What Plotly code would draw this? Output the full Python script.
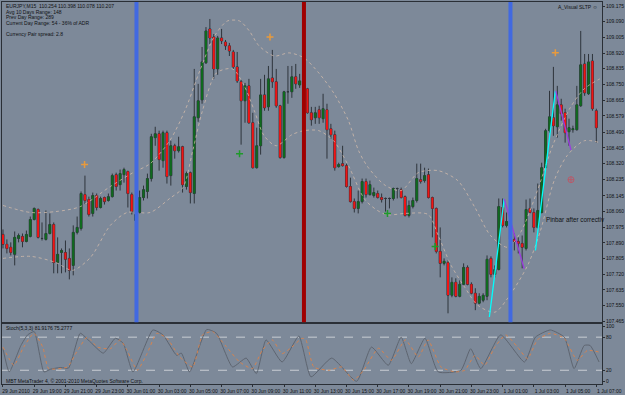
import plotly.graph_objects as go

# ---------------- data ----------------
bars = list(range(153))
open_ = [107.936,107.882,107.866,107.828,107.914,107.925,107.898,107.925,108.017,108.071,
107.914,107.909,107.941,107.990,107.784,107.838,107.838,107.806,107.768,107.947,
107.968,108.152,108.125,108.050,108.147,108.082,108.136,108.120,108.141,108.260,
108.206,108.260,108.277,108.152,108.012,108.055,108.136,108.169,108.239,108.461,
108.482,108.336,108.488,108.255,108.417,108.390,108.412,108.196,108.271,108.158,
108.569,108.666,108.867,109.051,109.007,108.834,109.002,108.980,108.959,108.926,
108.845,108.764,108.661,108.742,108.542,108.298,108.417,108.693,108.628,108.785,
108.764,108.634,108.353,108.710,108.710,108.791,108.747,108.775,108.726,108.596,
108.569,108.612,108.564,108.612,108.509,108.477,108.304,108.320,108.309,108.196,
108.114,108.077,108.114,108.223,108.152,108.147,108.158,108.136,108.131,108.131,
108.131,108.185,108.179,108.141,108.039,108.087,108.120,108.233,108.228,108.260,
108.136,108.077,107.844,107.779,107.784,107.606,107.676,107.600,107.665,107.757,
107.665,107.617,107.563,107.579,107.600,107.806,107.719,107.746,108.082,107.985,
108.006,107.909,107.898,107.887,107.860,108.077,108.055,107.974,108.055,108.298,
108.499,108.569,108.520,108.639,108.596,108.493,108.504,108.504,108.634,108.861,
108.699,108.877,108.607]
high = [107.963,107.909,107.893,107.952,107.941,107.941,107.957,108.033,108.082,108.077,
108.001,108.066,108.050,108.001,107.920,107.860,107.903,107.860,107.985,108.033,
108.169,108.255,108.141,108.163,108.158,108.141,108.141,108.158,108.266,108.271,
108.288,108.298,108.282,108.163,108.104,108.174,108.201,108.266,108.482,108.520,
108.499,108.499,108.499,108.444,108.428,108.466,108.417,108.277,108.277,108.834,
108.753,108.953,109.061,109.105,109.023,109.013,109.051,108.991,108.975,108.937,
108.926,108.775,108.758,108.780,108.596,108.515,108.780,108.802,108.850,108.937,
108.834,108.639,108.715,108.850,108.850,108.861,108.807,108.839,108.731,108.628,
108.628,108.634,108.699,108.645,108.536,108.499,108.325,108.417,108.320,108.244,
108.131,108.174,108.239,108.239,108.228,108.190,108.174,108.158,108.136,108.136,
108.190,108.190,108.190,108.147,108.120,108.136,108.320,108.320,108.298,108.293,
108.141,108.082,107.974,107.806,107.795,107.703,107.698,107.687,107.779,107.768,
107.676,107.644,107.617,107.617,107.822,107.817,107.768,108.131,108.131,108.055,
108.028,107.941,107.920,107.930,108.125,108.131,108.077,108.212,108.325,108.509,
108.715,108.845,108.742,108.672,108.618,108.564,108.526,108.742,109.040,108.915,
108.915,108.915,108.618]
low = [107.860,107.833,107.822,107.768,107.893,107.866,107.893,107.920,108.012,107.914,
107.903,107.903,107.936,107.725,107.725,107.725,107.730,107.692,107.714,107.936,
107.957,108.098,108.033,108.033,108.066,108.077,108.098,108.114,108.136,108.174,
108.174,108.217,108.082,108.044,107.995,108.050,108.120,108.131,108.223,108.417,
108.282,108.298,108.212,108.201,108.347,108.380,108.163,108.179,108.104,108.104,
108.547,108.645,108.861,108.969,108.780,108.802,108.969,108.937,108.904,108.834,
108.758,108.423,108.542,108.536,108.293,108.293,108.369,108.607,108.607,108.731,
108.623,108.347,108.347,108.645,108.677,108.726,108.731,108.677,108.591,108.526,
108.536,108.536,108.542,108.347,108.455,108.282,108.298,108.304,108.190,108.109,
108.055,108.050,108.104,108.136,108.147,108.136,108.131,108.109,108.060,108.077,
108.120,108.131,108.131,108.033,108.028,108.077,108.109,108.212,108.217,108.131,
107.920,107.833,107.703,107.768,107.508,107.595,107.595,107.595,107.660,107.660,
107.611,107.525,107.557,107.568,107.579,107.703,107.703,107.741,107.974,107.974,
107.898,107.849,107.833,107.752,107.849,108.050,107.947,107.968,108.050,108.293,
108.488,108.471,108.461,108.553,108.434,108.417,108.488,108.499,108.628,108.688,
108.693,108.607,108.434]
close = [107.882,107.860,107.838,107.920,107.930,107.898,107.936,108.017,108.077,107.920,
107.914,107.941,107.990,107.784,107.828,107.849,107.801,107.741,107.947,107.974,
108.158,108.120,108.044,108.147,108.082,108.131,108.114,108.141,108.255,108.196,
108.266,108.288,108.158,108.060,108.044,108.136,108.179,108.239,108.466,108.482,
108.342,108.488,108.250,108.417,108.390,108.412,108.206,108.266,108.163,108.574,
108.661,108.872,109.040,109.002,108.834,109.002,108.986,108.959,108.931,108.845,
108.769,108.661,108.742,108.542,108.298,108.417,108.693,108.623,108.780,108.764,
108.634,108.353,108.710,108.710,108.791,108.753,108.769,108.715,108.596,108.558,
108.596,108.569,108.618,108.504,108.477,108.298,108.315,108.309,108.196,108.114,
108.077,108.114,108.223,108.152,108.206,108.163,108.136,108.125,108.131,108.131,
108.185,108.185,108.136,108.039,108.093,108.120,108.239,108.223,108.255,108.136,
108.077,107.844,107.779,107.790,107.606,107.676,107.600,107.665,107.757,107.665,
107.617,107.563,107.600,107.606,107.801,107.719,107.746,108.087,107.985,108.006,
107.909,107.898,107.887,107.866,108.071,108.055,107.974,108.066,108.298,108.499,
108.574,108.526,108.639,108.591,108.488,108.515,108.509,108.639,108.856,108.704,
108.872,108.618,108.515]

# envelope bands (dotted), read at anchor bars
upper_bar = [0,7.1,13.5,19.8,27.5,33.3,37.7,42.7,46.6,50.4,54.2,57.5,60.6,63.1,65.6,69.5,73.3,77.1,80.9,84.7,88.5,91.1,93.6,98.0,102.0,106.4,111.5,116.5,120.9,124.9,129.3,132.6,136.9,141.0,145.3,148.9,152.9]
upper_val = [108.093,108.055,108.060,108.087,108.196,108.271,108.320,108.444,108.607,108.823,109.013,109.094,109.094,109.040,108.959,108.904,108.921,108.894,108.812,108.704,108.553,108.390,108.298,108.201,108.174,108.271,108.282,108.228,108.082,107.930,107.866,107.947,108.174,108.428,108.623,108.726,108.780]
lower_bar = [0,7.1,13.5,17.8,22.4,27.5,31.8,37.7,42.7,46.1,48.6,51.1,54.7,58.8,61.8,64.4,66.9,70.0,74.0,77.1,80.9,84.7,88.5,92.9,98.0,103.1,108.9,111.5,114.8,118.3,121.6,126.0,129.3,134.4,137.7,141.2,144.5,148.9,152.9]
lower_val = [107.806,107.817,107.784,107.741,107.811,107.985,108.055,108.055,108.131,108.190,108.390,108.607,108.812,108.834,108.742,108.607,108.471,108.417,108.477,108.499,108.499,108.444,108.309,108.120,108.044,108.050,108.044,107.930,107.768,107.649,107.552,107.514,107.590,107.768,107.957,108.228,108.363,108.444,108.434]

# zigzag overlay
cyan_bar = [124.6,128.4,None,136.4,141.5]
cyan_val = [107.488,108.129,None,107.849,108.715]
purple_bar = [128.4,133.5,None,141.6,145.5]
purple_val = [108.129,107.750,None,108.715,108.394]

# signal markers
orange_bar = [20.9,68.4,141.5]
orange_val = [108.315,109.007,108.921]
green_bar = [60.6,98.5,110.7]
green_val = [108.374,108.050,107.871]
circle_bar = [145.5]
circle_val = [108.233]

# vertical lines (bar positions)
vline_bars = [34.2,77.1,130.0]
vline_colors = ['#4169e1','#a00000','#4169e1']

# stochastic
k_bar = [0,1.6,4.6,6.3,8.0,10.5,12.2,14.8,16.8,19.8,22.4,25.7,28.8,30.8,33.3,38.4,41.0,44.5,45.7,47.8,52.2,54.7,58.8,62.3,64.9,67.4,71.5,75.8,78.9,84.2,90.6,94.4,98.7,102.0,104.6,108.1,111.5,117.3,119.8,122.4,127.5,133.6,136.4,140.2,143.8,146.3,148.9,150.4,152.7]
k_val = [59,17,65,84,90,17,22,25,24,87,71,51,78,69,17,93,84,47,51,17,94,87,26,42,14,75,35,82,8,42,0,62,29,80,32,78,17,20,59,23,84,35,80,93,80,23,65,65,35]
d_bar = [0,2.8,5.3,7.9,10.2,11.7,16.5,19.1,21.6,24.2,27.5,30.0,31.8,34.4,36.9,39.4,42.0,45.3,48.6,51.1,53.7,57.3,60.6,63.9,66.4,69.0,71.5,74.0,76.6,77.6,79.6,83.5,86.8,89.8,92.4,96.2,99.5,103.1,106.4,108.9,112.2,115.8,118.3,120.9,123.4,126.0,128.8,131.8,134.4,136.9,140.2,143.8,147.1,149.7,152.7]
d_val = [62,29,62,87,62,23,26,56,80,62,59,75,56,20,50,87,78,44,26,84,90,62,35,23,56,75,50,62,78,75,26,20,26,2,20,60,38,75,44,75,26,17,20,47,29,62,84,62,41,75,87,78,38,56,53]
stoch_levels = [80,20]

# axis labels
x_tickvals = list(range(0,153,8))
x_ticktext = ["29 Jun 2010","29 Jun 19:00","29 Jun 21:00","29 Jun 23:00","30 Jun 01:00",
              "30 Jun 03:00","30 Jun 05:00","30 Jun 07:00","30 Jun 09:00","30 Jun 11:00",
              "30 Jun 13:00","30 Jun 15:00","30 Jun 17:00","30 Jun 19:00","30 Jun 21:00",
              "30 Jun 23:00","1 Jul 01:00","1 Jul 03:00","1 Jul 05:00","1 Jul 07:00"]
y_ticks = [109.175,109.090,109.005,108.920,108.835,108.750,108.665,108.579,108.490,108.405,
           108.320,108.235,108.145,108.060,107.975,107.890,107.805,107.720,107.635,107.550,107.465]
y_ticktext = ["%.3f" % v for v in y_ticks]
stoch_ticks = [100,80,20,0]

header_lines = ["EURJPY,M15  110.254 110.398 110.078 110.207",
                "Avg 10 Days Range: 148",
                "Prev Day Range: 289",
                "Current Day Range: 54 - 36% of ADR",
                "Currency Pair spread: 2.8"]

# ---------------- style ----------------
BG = '#7d8999'
FRAME = '#2a2f36'
WICK = '#2e343b'
GREEN = '#0f6a1e'
RED = '#f01414'
TXT = '#101214'
BAND = 'rgba(214,190,172,0.75)'
FONT = 'Liberation Sans'

fig = go.Figure()

for bx, bv in ((upper_bar, upper_val), (lower_bar, lower_val)):
    fig.add_trace(go.Scatter(x=bx, y=bv, mode='lines', xaxis='x', yaxis='y',
                             line=dict(color=BAND, width=1, dash='dot', shape='spline', smoothing=0.8),
                             hoverinfo='skip', showlegend=False))

# wicks + outline
fig.add_trace(go.Candlestick(x=bars, open=open_, high=high, low=low, close=close,
                             xaxis='x', yaxis='y', whiskerwidth=0,
                             increasing=dict(line=dict(color=WICK, width=1), fillcolor=WICK),
                             decreasing=dict(line=dict(color=WICK, width=1), fillcolor=WICK),
                             hoverinfo='skip', showlegend=False))
# coloured bodies
fig.add_trace(go.Candlestick(x=bars, open=open_, high=high, low=low, close=close,
                             xaxis='x', yaxis='y', whiskerwidth=0,
                             increasing=dict(line=dict(color=GREEN, width=0), fillcolor=GREEN),
                             decreasing=dict(line=dict(color=RED, width=0), fillcolor=RED),
                             hoverinfo='skip', showlegend=False))

fig.add_trace(go.Scatter(x=cyan_bar, y=cyan_val, mode='lines', xaxis='x', yaxis='y',
                         line=dict(color='#00ffff', width=1.3), hoverinfo='skip', showlegend=False))
fig.add_trace(go.Scatter(x=purple_bar, y=purple_val, mode='lines', xaxis='x', yaxis='y',
                         line=dict(color='#9b3be0', width=1.3), hoverinfo='skip', showlegend=False))

fig.add_trace(go.Scatter(x=orange_bar, y=orange_val, mode='markers', xaxis='x', yaxis='y',
                         marker=dict(symbol='cross-thin', size=5, line=dict(color='#e89a3c', width=1.5)),
                         hoverinfo='skip', showlegend=False))
fig.add_trace(go.Scatter(x=green_bar, y=green_val, mode='markers', xaxis='x', yaxis='y',
                         marker=dict(symbol='cross-thin', size=5, line=dict(color='#1f9a2a', width=1.5)),
                         hoverinfo='skip', showlegend=False))
fig.add_trace(go.Scatter(x=circle_bar, y=circle_val, mode='markers', xaxis='x', yaxis='y',
                         marker=dict(symbol='circle-cross-open', size=6, color='#b85a6a',
                                     line=dict(color='#b85a6a', width=1)),
                         hoverinfo='skip', showlegend=False))

# stochastic
fig.add_trace(go.Scatter(x=k_bar, y=k_val, mode='lines', xaxis='x2', yaxis='y2',
                         line=dict(color='#5e6570', width=1, shape='spline', smoothing=0.5),
                         hoverinfo='skip', showlegend=False))
fig.add_trace(go.Scatter(x=d_bar, y=d_val, mode='lines', xaxis='x2', yaxis='y2',
                         line=dict(color='#d6834f', width=1, dash='dot', shape='spline', smoothing=0.5),
                         hoverinfo='skip', showlegend=False))

shapes = []
for b, c in zip(vline_bars, vline_colors):
    shapes.append(dict(type='line', xref='x', yref='y domain', x0=b, x1=b, y0=0, y1=1,
                       line=dict(color=c, width=4), layer='above'))
for lv in stoch_levels:
    shapes.append(dict(type='line', xref='x2 domain', yref='y2', x0=0, x1=1, y0=lv, y1=lv,
                       line=dict(color='#c9cdd3', width=1, dash='dash'), layer='below'))

H_TOP = 1
H_PLOT = 383
def py(pix):
    return 1 - (pix - H_TOP) / H_PLOT
def px(pix):
    return (pix - 1) / 604

annotations = []
for txt, pix in zip(header_lines, [5, 10.6, 16.2, 21.8, 33.4]):
    annotations.append(dict(text=txt, xref='paper', yref='paper', x=px(3), y=py(pix),
                            xanchor='left', yanchor='middle', showarrow=False,
                            font=dict(family=FONT, size=5, color=TXT)))
annotations.append(dict(text='A_Visual SLTP \u263a', xref='paper', yref='paper', x=px(603), y=py(6),
                        xanchor='right', yanchor='middle', showarrow=False,
                        font=dict(family=FONT, size=5, color=TXT)))
annotations.append(dict(text='Pinbar after correctiv', xref='x', yref='y', x=138.7, y=108.017,
                        xanchor='left', yanchor='middle', showarrow=False,
                        font=dict(family=FONT, size=6.3, color=TXT)))
annotations.append(dict(text='Stoch(5,3,3) 81.9176 75.2777', xref='paper', yref='paper', x=px(3), y=py(327.5),
                        xanchor='left', yanchor='middle', showarrow=False,
                        font=dict(family=FONT, size=5, color=TXT)))
annotations.append(dict(text='MBT MetaTrader 4, \u00a9 2001-2010 MetaQuotes Software Corp.', xref='paper', yref='paper',
                        x=px(3), y=py(381), xanchor='left', yanchor='middle', showarrow=False,
                        font=dict(family=FONT, size=5, color=TXT)))

XR = [-0.25, 153.45]
fig.update_layout(
    width=625, height=395,
    margin=dict(l=1, r=20, t=1, b=11, pad=0),
    paper_bgcolor=BG, plot_bgcolor=BG,
    showlegend=False, boxgap=0.25,
    font=dict(family=FONT, size=5, color=TXT),
    shapes=shapes, annotations=annotations,
    xaxis=dict(domain=[0, 1], anchor='y', range=XR, showticklabels=False, ticks='',
               showline=True, mirror=True, linecolor=FRAME, linewidth=1,
               showgrid=False, zeroline=False, rangeslider=dict(visible=False)),
    xaxis2=dict(domain=[0, 1], anchor='y2', matches='x', range=XR,
                tickmode='array', tickvals=x_tickvals, ticktext=x_ticktext,
                ticks='outside', ticklen=2, tickcolor=FRAME, ticklabelshift=13,
                tickfont=dict(family=FONT, size=5, color=TXT),
                showline=True, mirror=True, linecolor=FRAME, linewidth=1,
                showgrid=False, zeroline=False, rangeslider=dict(visible=False)),
    yaxis=dict(domain=[0.1619, 1], anchor='x', side='right', range=[107.460, 109.197],
               tickmode='array', tickvals=y_ticks, ticktext=y_ticktext,
               ticks='outside', ticklen=2, tickcolor=FRAME,
               tickfont=dict(family=FONT, size=5, color=TXT),
               showline=True, mirror=True, linecolor=FRAME, linewidth=1,
               showgrid=False, zeroline=False),
    yaxis2=dict(domain=[0, 0.1567], anchor='x2', side='right', range=[-4.9, 103.6],
                tickmode='array', tickvals=stoch_ticks,
                ticks='outside', ticklen=2, tickcolor=FRAME,
                tickfont=dict(family=FONT, size=5, color=TXT),
                showline=True, mirror=True, linecolor=FRAME, linewidth=1,
                showgrid=False, zeroline=False),
)

fig.write_html("out.html")
